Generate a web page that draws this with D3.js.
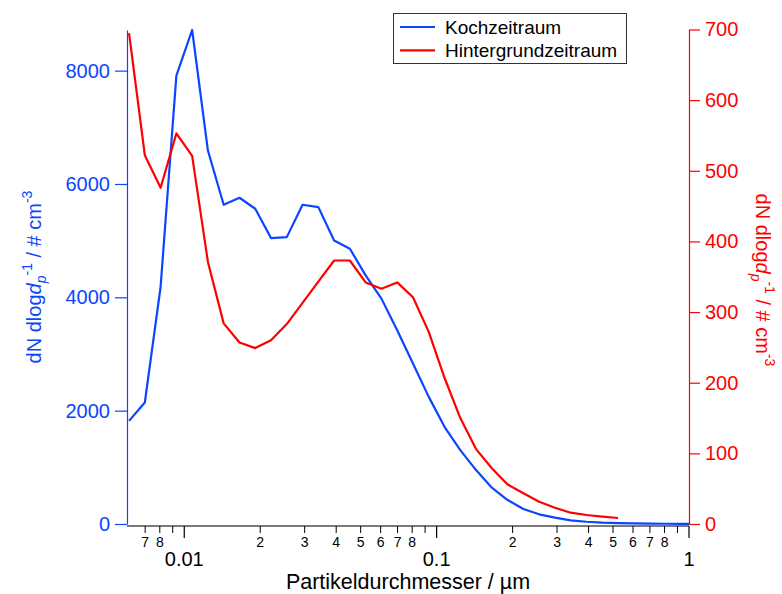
<!doctype html>
<html>
<head>
<meta charset="utf-8">
<script src="https://d3js.org/d3.v7.min.js"></script>
<style>
    body { margin: 0; background: #fff; }
    svg { font-family: "Liberation Sans", Arial, sans-serif; }
    .line { fill: none; stroke-width: 2.2px; stroke-linejoin: round; }
</style>
</head>
<body>
<svg width="782" height="594"></svg>

<script>
    // particle diameter in µm (bin centres)
    var diameters = [0.006043, 0.006978, 0.008058, 0.009306, 0.010746, 0.012409, 0.014330, 0.016548,
                     0.019110, 0.022068, 0.025483, 0.029428, 0.033983, 0.039243, 0.045317, 0.052332,
                     0.060432, 0.069786, 0.080589, 0.093063, 0.10746, 0.12409, 0.14330, 0.16548,
                     0.19110, 0.22068, 0.25483, 0.29428, 0.33983, 0.39243, 0.45317, 0.52332,
                     0.60432, 0.69786, 0.80589, 0.93063, 1.0746];

    // Kochzeitraum (left axis)
    var koch = [1820, 2144, 4182, 7911, 8717, 6590, 5633, 5757,
                5563, 5045, 5062, 5633, 5591, 5004, 4857, 4387,
                3977, 3418, 2831, 2243, 1715, 1304, 951, 640,
                423, 264, 171, 112, 65, 40, 23, 15,
                10, 6, 4, 3, 2];

    // Hintergrundzeitraum (right axis)
    var hintergrund = [695, 522, 476, 553, 521, 371, 284, 257,
                       249, 260, 283, 313, 343, 373, 373, 342,
                       333, 342, 321, 272, 207, 150, 106, 79,
                       56, 43.5, 31.6, 23, 16, 12.7, 10.4, 8.5];

    var leftTicks = [0, 2000, 4000, 6000, 8000];
    var rightTicks = [0, 100, 200, 300, 400, 500, 600, 700];
    var majorTicks = [0.01, 0.1, 1];
    var majorLabels = ["0.01", "0.1", "1"];
    var minorTicks = [0.007, 0.008, 0.009,
                      0.02, 0.03, 0.04, 0.05, 0.06, 0.07, 0.08, 0.09,
                      0.2, 0.3, 0.4, 0.5, 0.6, 0.7, 0.8, 0.9];
    var minorLabels = ["7", "8", "",
                       "2", "3", "4", "5", "6", "7", "8", "",
                       "2", "3", "4", "5", "6", "7", "8", ""];

    var blue = "#0a46ff",
        red = "#ff0000";

    var svg = d3.select("svg");

    var x = d3.scaleLog().domain([0.00604, 1]).range([129, 689]),
        yL = d3.scaleLinear().domain([0, 8717]).range([524, 30]),
        yR = d3.scaleLinear().domain([0, 700]).range([524, 29.5]);

    svg.append("clipPath").attr("id", "plot")
       .append("rect")
       .attr("x", 127).attr("y", 0)
       .attr("width", 689 - 127).attr("height", 530);

    // bottom axis
    var bottom = 526;
    svg.append("line")
       .attr("x1", 127).attr("x2", 689)
       .attr("y1", bottom).attr("y2", bottom)
       .attr("stroke", "#7a7a7a").attr("stroke-width", 2);

    svg.selectAll(".minor")
       .data(minorTicks)
       .enter().append("line")
       .attr("class", "minor")
       .attr("x1", function(d) { return x(d); })
       .attr("x2", function(d) { return x(d); })
       .attr("y1", bottom).attr("y2", bottom + 7)
       .attr("stroke", "#000").attr("stroke-width", 1);

    svg.selectAll(".major")
       .data(majorTicks)
       .enter().append("line")
       .attr("class", "major")
       .attr("x1", function(d) { return x(d); })
       .attr("x2", function(d) { return x(d); })
       .attr("y1", bottom).attr("y2", bottom + 12)
       .attr("stroke", "#000").attr("stroke-width", 1.2);

    svg.selectAll(".minorLabel")
       .data(minorTicks)
       .enter().append("text")
       .attr("class", "minorLabel")
       .attr("x", function(d) { return x(d); })
       .attr("y", 546.5)
       .attr("text-anchor", "middle")
       .attr("font-size", "14px")
       .text(function(d, i) { return minorLabels[i]; });

    svg.selectAll(".majorLabel")
       .data(majorTicks)
       .enter().append("text")
       .attr("class", "majorLabel")
       .attr("x", function(d) { return x(d); })
       .attr("y", 566)
       .attr("text-anchor", "middle")
       .attr("font-size", "20px")
       .text(function(d, i) { return majorLabels[i]; });

    svg.append("text")
       .attr("x", 408)
       .attr("y", 589)
       .attr("text-anchor", "middle")
       .attr("font-size", "21.5px")
       .text("Partikeldurchmesser / µm");

    // left axis
    var gl = svg.append("g")
       .attr("transform", "translate(127,0)")
       .call(d3.axisLeft(yL).tickValues(leftTicks).tickSize(12).tickSizeOuter(0).tickPadding(5)
               .tickFormat(d3.format("d")));
    gl.select(".domain").attr("stroke", blue).attr("stroke-width", 1.2);
    gl.selectAll(".tick line").attr("stroke", blue).attr("stroke-width", 1.2);
    gl.selectAll(".tick text").attr("fill", blue).attr("font-size", "20px")
      .attr("font-family", "Liberation Sans, Arial, sans-serif");

    // right axis
    var gr = svg.append("g")
       .attr("transform", "translate(689,0)")
       .call(d3.axisRight(yR).tickValues(rightTicks).tickSize(11).tickSizeOuter(0).tickPadding(5)
               .tickFormat(d3.format("d")));
    gr.select(".domain").attr("stroke", red).attr("stroke-width", 1.2);
    gr.selectAll(".tick line").attr("stroke", red).attr("stroke-width", 1.2);
    gr.selectAll(".tick text").attr("fill", red).attr("font-size", "20px")
      .attr("font-family", "Liberation Sans, Arial, sans-serif");

    // axis titles
    function title(sel) {
        sel.append("tspan").text("dN dlog");
        sel.append("tspan").attr("font-style", "italic").text("d");
        sel.append("tspan").attr("font-style", "italic").attr("font-size", "14px").attr("dy", 5).text("p");
        sel.append("tspan").attr("font-size", "14px").attr("dy", -14).text("-1");
        sel.append("tspan").attr("dy", 9).text(" / # cm");
        sel.append("tspan").attr("font-size", "14px").attr("dy", -9).text("-3");
    }

    svg.append("text")
       .attr("transform", "translate(41,277) rotate(-90)")
       .attr("text-anchor", "middle")
       .attr("font-size", "20px")
       .attr("fill", blue)
       .call(title);

    svg.append("text")
       .attr("transform", "translate(756,280) rotate(90)")
       .attr("text-anchor", "middle")
       .attr("font-size", "20px")
       .attr("fill", red)
       .call(title);

    // data lines
    var lineL = d3.line()
        .x(function(d, i) { return x(diameters[i]); })
        .y(function(d) { return yL(d); });
    var lineR = d3.line()
        .x(function(d, i) { return x(diameters[i]); })
        .y(function(d) { return yR(d); });

    svg.append("path")
       .datum(koch)
       .attr("class", "line")
       .attr("clip-path", "url(#plot)")
       .attr("stroke", blue)
       .attr("d", lineL);

    svg.append("path")
       .datum(hintergrund)
       .attr("class", "line")
       .attr("clip-path", "url(#plot)")
       .attr("stroke", red)
       .attr("d", lineR);

    // legend
    var legend = [{name: "Kochzeitraum", color: blue}, {name: "Hintergrundzeitraum", color: red}];
    svg.append("rect")
       .attr("x", 393.5).attr("y", 13.5)
       .attr("width", 233).attr("height", 50)
       .attr("fill", "#fff").attr("stroke", "#333").attr("stroke-width", 1);

    var lg = svg.selectAll(".leg")
       .data(legend)
       .enter().append("g")
       .attr("class", "leg")
       .attr("transform", function(d, i) { return "translate(0," + (i * 23.3) + ")"; });
    lg.append("line")
      .attr("x1", 400).attr("x2", 435)
      .attr("y1", 27).attr("y2", 27)
      .attr("stroke", function(d) { return d.color; })
      .attr("stroke-width", 2.2);
    lg.append("text")
      .attr("x", 445).attr("y", 34)
      .attr("font-size", "19px")
      .text(function(d) { return d.name; });
</script>
</body>
</html>
